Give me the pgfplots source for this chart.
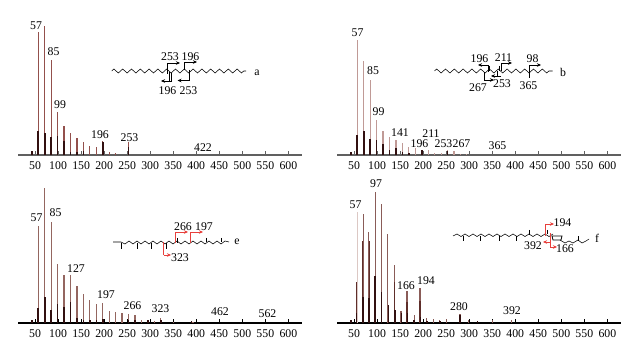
\documentclass[border=0pt]{standalone}
\usepackage{pgfplots}
\pgfplotsset{compat=1.18}
\usepackage{fontspec}
\setmainfont{Liberation Serif}
\usetikzlibrary{decorations.pathmorphing,arrows.meta}
\definecolor{lita}{HTML}{93504C}
\definecolor{litb}{HTML}{C09A96}
\definecolor{lite}{HTML}{946660}
\definecolor{litf}{HTML}{8A5C58}
\definecolor{pale}{HTML}{DCC8C4}
\definecolor{midd}{HTML}{5E2E2A}
\definecolor{dark}{HTML}{321010}
\definecolor{redd}{HTML}{E8403C}
\pgfplotsset{
 spec/.style={x=0.4606pt,y=1pt,ymin=0,ymax=140,xmin=13,xmax=630,
  axis x line=bottom,axis y line=none,axis line style={-,line width=1.1pt,color=#1},
  xtick={50,100,...,600},tick align=inside,
  major tick length=4pt,
  x tick style={color=#1,line width=0.6pt},
  x tick label style={font=\fontsize{11.8}{11.8}\selectfont,yshift=-3.5pt},
  /pgf/number format/assume math mode=true,
  anchor=origin,clip=false},
 lt/.style={ycomb,no markers,color=#1,line width=1.2pt},
 dk/.style={ycomb,no markers,color=dark,line width=1.6pt},
}
\newcommand{\zig}[3]{\draw[black,line width=0.55pt,decorate,decoration={zigzag,segment length=8.8pt,amplitude=2pt}] (#1,#3)--(#2,#3);}
\tikzset{lab/.style={font=\fontsize{11.8}{11.8}\selectfont,inner sep=0pt},
 ar/.style={-{Stealth[length=4pt,width=3.5pt]}}}
\begin{document}
\begin{tikzpicture}[x=1pt,y=1pt]
\path[use as bounding box,fill=white] (0,0) rectangle (640,353);
% panel a
\begin{axis}[spec=gray!75!black,at={(18pt,198pt)}]
\addplot[lt=lita] coordinates {(57,123)(71,129)(85,95)(99,43)(113,29)(127,22)(141,17)(155,13)(169,9)(183,8)(197,14)(211,3)(225,2)(253,13)};
\addplot[dk] coordinates {(43,4)(57,24)(71,22)(85,18)(99,19)(113,14)(127,3)(141,3)(155,4)(197,13)(253,8)};
\end{axis}
% panel b
\begin{axis}[spec=gray!75!black,at={(337pt,198pt)}]
\addplot[lt=litb] coordinates {(57,115)(71,94)(85,75)(99,35)(113,24)(127,18)(141,15)(155,12)(169,8)(183,7)(197,5)(211,5)(225,2)(239,2)(253,5)(267,4)(281,1)(295,1)};
\addplot[dk] coordinates {(43,3)(57,20)(71,24)(85,16)(99,15)(113,11)(127,5)(141,7)(155,3)(169,2)(197,5)(253,4)};
\end{axis}
% panel e
\begin{axis}[spec=black,at={(18pt,30pt)}]
\addplot[lt=lite] coordinates {(57,97)(71,135)(85,101)(99,59)(113,48)(127,48)(141,37)(155,29)(169,23)(183,19)(197,20)(211,12)(225,11)(239,10)(253,9)(267,8)(281,3)(295,3)(309,2)(323,5)(351,1)(393,1)};
\addplot[dk] coordinates {(43,3)(57,15)(71,26)(85,13)(99,19)(113,16)(127,21)(141,5)(155,3)(169,3)(183,3)(197,4)(253,3)(267,3)(295,3)(323,3)(390,2)};
\end{axis}
% panel f
\begin{axis}[spec=black,at={(337pt,30pt)}]
\addplot[lt=pale] coordinates {(57,111)};
\addplot[lt=litf] coordinates {(70,109)(82,91)(96,131)(110,119)(123,89)(137,58)(152,12)(165,32)(181,8)(193,35)(208,5)(222,4)(236,3)(250,4)(280,9)(298,3)(350,3)(392,3)};
\addplot[lt=midd] coordinates {(55,41)(69,82)(84,82)(96,47)(110,31)(137,41)(165,21)(193,22)};
\addplot[dk] coordinates {(43,3)(55,10)(69,26)(83,25)(96,47)(110,31)(125,18)(139,13)(153,10)(166,10)(180,3)(194,6)(208,2)(236,2)(280,8)(318,2)};
\end{axis}
\begin{scope}[shift={(0,353)},y=-1pt,line width=0.55pt]
% labels a
\node[lab] at (36,26) {57};
\node[lab] at (53.5,51.5) {85};
\node[lab] at (60,104.5) {99};
\node[lab] at (100,135) {196};
\node[lab] at (129.5,137.5) {253};
\node[lab] at (203,147.5) {422};
\zig{111.7}{246}{71}
\node[lab] at (170,57) {253};
\node[lab] at (190.5,57) {196};
\node[lab] at (167.5,91) {196};
\node[lab] at (188.5,91) {253};
\node[lab] at (257,73) {a};
\draw (167.5,74)--(167.5,63);\draw[ar] (167.5,63)--(180,63);
\draw (171.5,73)--(171.5,81); \draw (169.5,72)--(169.5,81);
\draw (184,70)--(184,62);\draw[ar] (184,62)--(197,62);
\draw (189.5,70)--(189.5,80.5);\draw[ar] (189.5,80.5)--(177.5,80.5);
\draw[ar] (172,81)--(161,81);
% labels b
\node[lab] at (357.5,32.5) {57};
\node[lab] at (373,71) {85};
\node[lab] at (378.5,112) {99};
\node[lab] at (400,133) {141};
\node[lab] at (419.5,144) {196};
\node[lab] at (431,133.5) {211};
\node[lab] at (443.5,144) {253};
\node[lab] at (461.5,144) {267};
\node[lab] at (497.5,146) {365};
\zig{434.5}{552.5}{71}
\node[lab] at (479.5,59) {196};
\node[lab] at (503.5,57.5) {211};
\node[lab] at (532.5,59) {98};
\node[lab] at (478,88) {267};
\node[lab] at (502,83.5) {253};
\node[lab] at (528.5,86) {365};
\node[lab] at (563,72) {b};
\draw (488,72)--(488,65);\draw[ar] (488,65)--(478,65);
\draw (484,72)--(484,80);\draw[ar] (484,80)--(494,80);
\draw (497,71)--(497,76);\draw[ar] (501,76)--(491,76);
\draw (501,71)--(501,63);\draw[ar] (501,63)--(512,63);
\draw (529,78)--(529,65);\draw[ar] (529,65)--(541,65);
\draw (499,66)--(499,71);\draw (489,66)--(489,71);
% labels e
\node[lab] at (36.5,218) {57};
\node[lab] at (55.5,213) {85};
\node[lab] at (76,269) {127};
\node[lab] at (106,295) {197};
\node[lab] at (132.5,306) {266};
\node[lab] at (160.5,309) {323};
\node[lab] at (220,312) {462};
\node[lab] at (267.5,314) {562};
\draw (113,242) -- (121,242)--(125,244)--(129,241)--(133,244)--(137,241)--(141,244)--(145,241)--(149,244)--(153,241)--(157,244)--(161,241)--(165,244)--(169,241)--(173,244)--(177,241)--(181,244)--(185,241)--(189,244)--(193,241)--(197,244)--(201,241)--(205,244)--(209,241)--(213,244)--(217,241)--(221,244)--(225,241)--(229,242);
\draw (121,243)--(121,249) (137,243)--(137,249) (151,243)--(151,249) (166,243)--(166,249) (177,238)--(177,243) (190,238)--(190,242) (206,238)--(206,242) (221,238)--(221,242);
\node[lab] at (183,227) {266};
\node[lab] at (204,227) {197};
\node[lab] at (180,258) {323};
\node[lab] at (237,242) {e};
\draw[redd] (175,243)--(175,232);\draw[ar,redd] (175,232)--(188,232);
\draw[redd] (190,243)--(190,232);\draw[ar,redd] (190,232)--(203,232);
\draw[redd] (163.5,242)--(163.5,255);\draw[ar,redd] (163.5,255)--(171,255);
% labels f
\node[lab] at (355.5,205) {57};
\node[lab] at (376,184) {97};
\node[lab] at (406,286) {166};
\node[lab] at (426,281) {194};
\node[lab] at (459,307) {280};
\node[lab] at (512,311) {392};
\draw (453,236)--(457,234)--(461,236.5)--(465,234)--(469,236.5)--(473,234)--(477,236.5)--(481,234)--(485,236.5)--(489,234)--(493,236.5)--(497,234)--(501,236.5)--(505,234)--(509,236.5)--(513,234)--(517,236.5)--(521,234)--(525,236.5)--(529,234)--(533,236.5)--(537,234)--(541,236.5)--(545,234)--(549,236.5)--(553,234);
\draw (463,236)--(463,241) (480,236)--(480,241) (499,236)--(499,241) (516,236)--(516,241) (529,230)--(529,235) (547,230)--(547,234);
\draw[line width=0.8pt] (552,236)--(553,240)--(561,240)--(562,236)--cycle;
\draw (560,240)--(565,243)--(569,241)--(573,243)--(578,240)--(582,243)--(586,241)--(589,239);
\draw (578,241)--(578,236);
\node[lab] at (562.5,223) {194};
\node[lab] at (533,245.5) {392};
\node[lab] at (565,249) {166};
\node[lab] at (597,238) {f};
\draw[redd] (545,236)--(545,224);\draw[ar,redd] (545,224)--(554,224);
\draw[redd] (550,233)--(550,242);\draw[ar,redd] (550,242)--(543,242);
\draw[redd] (550,236)--(550,247);\draw[ar,redd] (550,247)--(557,247);
\end{scope}
\end{tikzpicture}
\end{document}
